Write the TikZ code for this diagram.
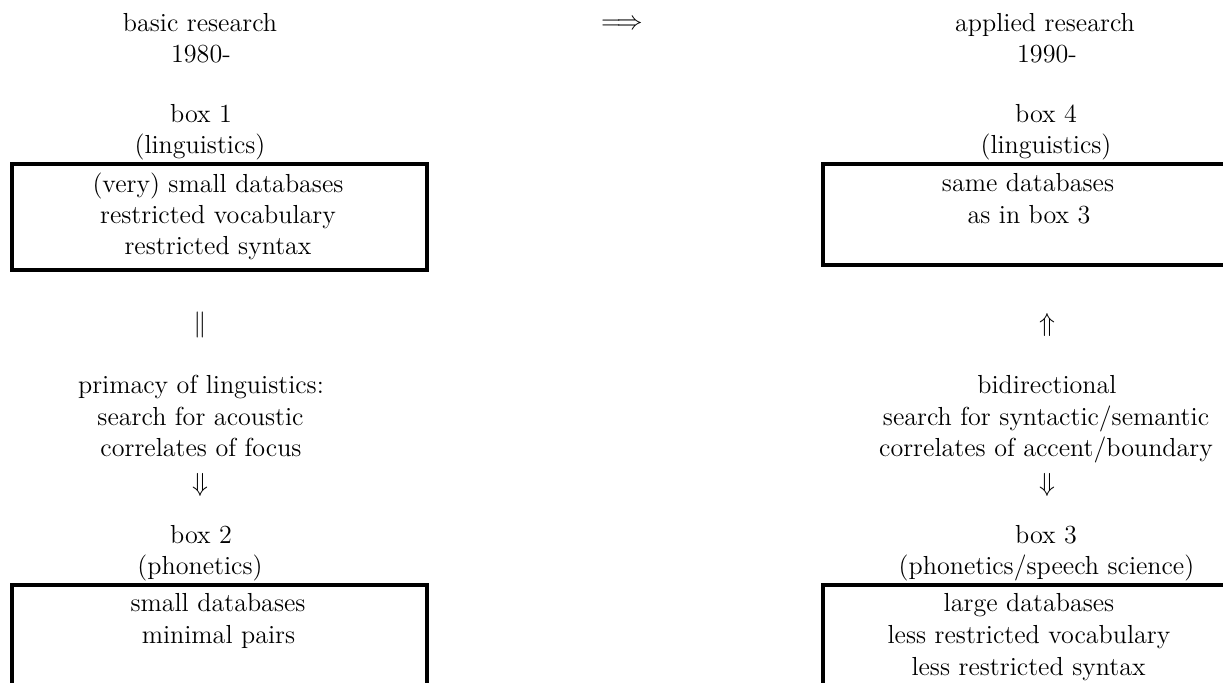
\documentclass[tikz,border=0pt]{standalone}
\begin{document}
\begin{tikzpicture}[x=0.46pt,y=-0.46pt,
  txt/.style={anchor=base,inner sep=0pt,font=\fontsize{12}{14.5}\selectfont},
  sym/.style={anchor=center,inner sep=0pt,font=\fontsize{12}{14.5}\selectfont},
  frame/.style={draw=black,line width=1.5pt}]
\useasboundingbox (0,0) rectangle (1223,683);
\clip (0,0) rectangle (1223,683);
% header
\node[txt] (h1a) at (200,32) {basic research};
\node[txt] (h1b) at (201,63) {1980-};
\node[sym] (impl) at (622,25) {$\Longrightarrow$};
\node[txt] (h2a) at (1045,32) {applied research};
\node[txt] (h2b) at (1047,63) {1990-};
% box 1
\node[txt] (b1a) at (201,123) {box 1};
\node[txt] (b1b) at (200,154) {(linguistics)};
\draw[frame] (12,164) rectangle (427,270);
\node[txt] (b1c1) at (218,193) {(very) small databases};
\node[txt] (b1c2) at (218,224) {restricted vocabulary};
\node[txt] (b1c3) at (218,255) {restricted syntax};
% box 4
\node[txt] (b4a) at (1046,123) {box 4};
\node[txt] (b4b) at (1046,154) {(linguistics)};
\draw[frame] (823,164) rectangle (1240,265);
\node[txt] (b4c1) at (1028,192) {same databases};
\node[txt] (b4c2) at (1029,223) {as in box 3};
% middle
\node[sym] (eq) at (200,325) {$\|$};
\node[sym] (up) at (1047,325) {$\Uparrow$};
\node[txt] (p1) at (201,393) {primacy of linguistics:};
\node[txt] (p2) at (200.5,425) {search for acoustic};
\node[txt] (p3) at (201,456) {correlates of focus};
\node[sym] (d1) at (200,485) {$\Downarrow$};
\node[txt] (q1) at (1047,393) {bidirectional};
\node[txt] (q2) at (1046,425) {search for syntactic/semantic};
\node[txt] (q3) at (1046,456) {correlates of accent/boundary};
\node[sym] (d2) at (1047,485) {$\Downarrow$};
% box 2
\node[txt] (b2a) at (201,543) {box 2};
\node[txt] (b2b) at (200,574) {(phonetics)};
\draw[frame] (12,700) -- (12,585) -- (427,585) -- (427,700);
\node[txt] (b2c1) at (218,611) {small databases};
\node[txt] (b2c2) at (218.5,643) {minimal pairs};
% box 3
\node[txt] (b3a) at (1046,543) {box 3};
\node[txt] (b3b) at (1046.5,574) {(phonetics/speech science)};
\draw[frame] (823,700) -- (823,585) -- (1240,585);
\node[txt] (b3c1) at (1029,611) {large databases};
\node[txt] (b3c2) at (1029,643) {less restricted vocabulary};
\node[txt] (b3c3) at (1028.5,675) {less restricted syntax};
\end{tikzpicture}
\end{document}
